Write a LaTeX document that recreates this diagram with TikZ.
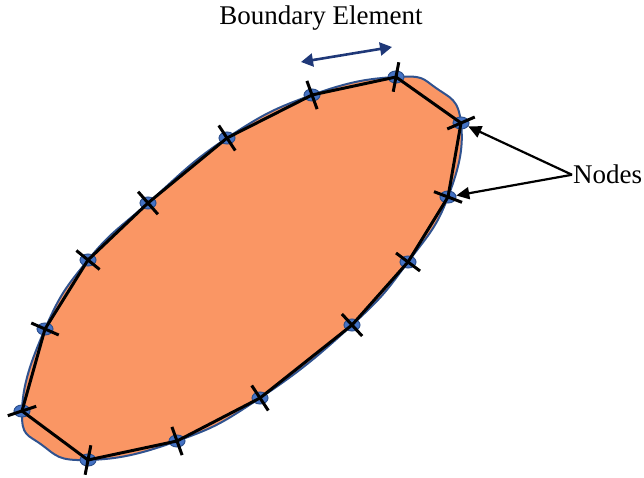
\documentclass[tikz,border=0pt]{standalone}
\usepackage{fontspec}
\setmainfont{Liberation Serif}
\usetikzlibrary{arrows.meta,calc,shapes.geometric}
\definecolor{fillorange}{RGB}{250,150,100}
\definecolor{edgeblue}{RGB}{47,82,143}
\definecolor{dotblue}{RGB}{68,114,196}
\definecolor{navyline}{RGB}{31,56,120}
\begin{document}
\begin{tikzpicture}[x=1pt,y=-1pt,
  dotnode/.style={ellipse, fill=dotblue, draw=edgeblue, line width=1pt, minimum width=16pt, minimum height=12pt, inner sep=0pt},
  elemline/.style={black, line width=3pt, line join=round},
  tickline/.style={black, line width=3pt},
  ptr/.style={black, line width=2.2pt, -{Triangle[length=13pt,width=12pt]}},
  dimarrow/.style={navyline, line width=2.6pt, {Triangle[length=12pt,width=13pt]}-{Triangle[length=12pt,width=13pt]}},
  lbl/.style={font=\fontsize{27}{32}\selectfont, inner sep=1pt}
]
\useasboundingbox (0,0) rectangle (644,478);
% node positions
\foreach \i/\x/\y in {1/396/77, 2/461/123, 3/448/197, 4/408/262, 5/352/325, 6/260/398, 7/177/441,
  8/88/460, 9/22/411, 10/45/329, 11/88/260, 12/148/203, 13/227/138, 14/312/95}
  \coordinate (p\i) at (\x,\y);
\coordinate (bulgeA) at (436,88);
\coordinate (bulgeB) at (42,445);
% body
\fill[fillorange, draw=edgeblue, line width=2pt]
  plot[smooth cycle, tension=0.8] coordinates {(p1) (bulgeA) (p2) (p3) (p4) (p5) (p6) (p7) (p8) (bulgeB) (p9) (p10) (p11) (p12) (p13) (p14)};
% nodes (dots)
\foreach \i in {1,...,14}
  \node[dotnode] (n\i) at (p\i) {};
% boundary elements
\draw[elemline] (p1) -- (p2) -- (p3) -- (p4) -- (p5) -- (p6) -- (p7) -- (p8) -- (p9) -- (p10) -- (p11) -- (p12) -- (p13) -- (p14) -- cycle;
% ticks
\foreach \h/\i/\j in {14/1/2, 1/2/3, 2/3/4, 3/4/5, 4/5/6, 5/6/7, 6/7/8, 7/8/9, 8/9/10, 9/10/11, 10/11/12, 11/12/13, 12/13/14, 13/14/1}
  \draw[tickline] let \p1=($(p\j)-(p\h)$), \n1={atan2(\y1,\x1)} in
    ($(p\i)+(\n1+90:15pt)$) -- ($(p\i)+(\n1-90:15pt)$);
% labels
\node[lbl, anchor=base] (belabel) at (321,25) {Boundary Element};
\coordinate (beL) at (301,62);
\coordinate (beR) at (392,47);
\draw[dimarrow] (beL) -- (beR);
\node[lbl, anchor=base west] (nodeslabel) at (572,184) {Nodes};
\draw[ptr] (nodeslabel.west) -- (n2);
\draw[ptr] (nodeslabel.west) -- (n3);
\end{tikzpicture}
\end{document}
